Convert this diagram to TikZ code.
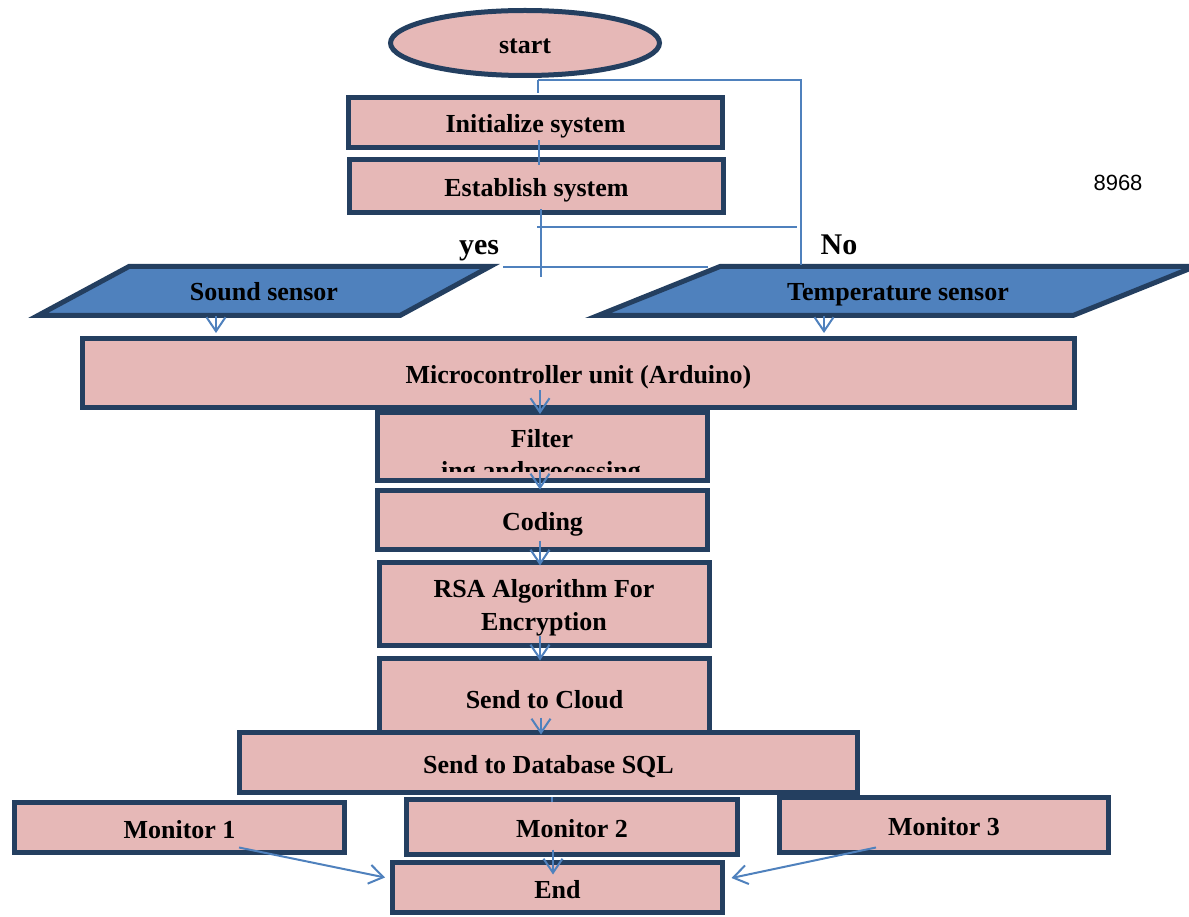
\documentclass[tikz,border=0pt]{standalone}
\usepackage{fontspec}
\setmainfont{Liberation Serif}
\newfontfamily\arialfont{Liberation Sans}
\usetikzlibrary{arrows.meta,calc,shapes.geometric}
\definecolor{pinkfill}{HTML}{E6B8B7}
\definecolor{navy}{HTML}{243F60}
\definecolor{lineblue}{HTML}{4F81BD}
\definecolor{sensorblue}{HTML}{4F81BD}
\begin{document}
\begin{tikzpicture}[x=1pt,y=-1pt,
  box/.style={draw=navy, line width=5pt, fill=pinkfill, inner sep=0pt,
    font=\fontsize{26}{33}\selectfont\bfseries, align=center,
    text height=21pt, text depth=0pt},
  sensor/.style={draw=navy, line width=5pt, fill=sensorblue},
  lbl/.style={font=\fontsize{26}{33}\selectfont\bfseries, inner sep=0pt},
  biglbl/.style={font=\fontsize{30}{36}\selectfont\bfseries, inner sep=0pt},
  wire/.style={draw=lineblue, line width=1.5pt},
  arr/.style={draw=lineblue, line width=2pt,
    -{Straight Barb[length=14pt,width=19pt,line width=2pt]}},
]
\useasboundingbox (0,0) rectangle (1189,917);

% start and first boxes
\node[box, ellipse, minimum width=269, minimum height=65] (start) at (525,43) {start};
\node[box, minimum width=374, minimum height=50] (init) at (535.5,122.5) {Initialize system};
\node[box, minimum width=374, minimum height=53] (estab) at (536.5,186) {Establish system};

% sensors
\draw[sensor] (129,266.5) coordinate (sTL) -- (490,266.5) coordinate (sTR)
  -- (400,315.5) coordinate (sBR) -- (38,315.5) coordinate (sBL) -- cycle;
\node[lbl, anchor=base] (sound) at (264,301) {Sound sensor};
\draw[sensor] (720,266.5) coordinate (tTL) -- (1195,266.5) coordinate (tTR)
  -- (1073,315.5) coordinate (tBR) -- (598,315.5) coordinate (tBL) -- cycle;
\node[lbl, anchor=base] (temp) at (898,301) {Temperature sensor};

\node[biglbl, anchor=base] (yes) at (479,255) {yes};
\node[biglbl, anchor=base] (no) at (839,255) {No};
\node[font=\arialfont\fontsize{22}{26}\selectfont, inner sep=0pt, anchor=base] (num) at (1118,191) {8968};

% main column
\node[box, minimum width=992, minimum height=69] (micro) at (578.5,373) {Microcontroller unit (Arduino)};
\node[box, minimum width=330, minimum height=68] (filter) at (542.5,446.5) {};
\node[lbl, anchor=base] (filt1) at (542,447) {Filter};
\begin{scope}
  \clip (377,412) rectangle (708,471);
  \node[lbl, anchor=base] (filt2) at (541,479) {ing andprocessing};
\end{scope}
\node[box, minimum width=330, minimum height=59] (coding) at (542.5,520) {Coding};
\node[box, minimum width=330, minimum height=83] (rsa) at (544.5,604) {};
\node[lbl, anchor=base] (rsa1) at (544,597) {RSA Algorithm For};
\node[lbl, anchor=base] (rsa2) at (544,630) {Encryption};
\node[box, minimum width=330, minimum height=79] (cloud) at (544.5,698) {Send to Cloud};
\node[box, minimum width=618, minimum height=60] (db) at (548.5,762.5) {Send to Database SQL};
\node[box, minimum width=330, minimum height=50] (m1) at (179.5,827.5) {Monitor 1};
\node[box, minimum width=331, minimum height=55] (m2) at (572,827) {Monitor 2};
\node[box, minimum width=329, minimum height=55] (m3) at (944,825) {Monitor 3};
\node[box, minimum width=330, minimum height=50] (end) at (557.5,887.5) {End};

% thin connector lines at the top
\coordinate (topright) at (801,265);
\coordinate (yesend) at (541,277);
\coordinate (hl1) at (537,227);
\coordinate (hl2) at (797,227);
\draw[wire] ($(start.south)+(13,2)$) -- ($(init.north)+(2.5,-2)$);
\draw[wire] ($(start.south)+(13,2)$) -| (topright);
\draw[wire] ($(init.south)+(3.5,-9.5)$) -- ($(estab.north)+(2.5,8.5)$);
\draw[wire] ($(estab.south)+(4.5,-5.5)$) -- (yesend);
\draw[wire] (hl1) -- (hl2);
\draw[wire] ($(sTR)+(13,0.5)$) -- ($(tTL)+(-12,0.5)$);

% arrows
\draw[arr] ($(micro.north)+(-362.5,-20)$) -- ($(micro.north)+(-362.5,-3)$);
\draw[arr] ($(micro.north)+(245.5,-20)$) -- ($(micro.north)+(245.5,-3)$);
\draw[arr] ($(filter.north)+(-2.5,-20)$) -- ($(filter.north)+(-2.5,4)$);
\draw[arr] ($(coding.north)+(-2.5,-18.5)$) -- ($(coding.north)+(-2.5,1.5)$);
\draw[arr] ($(rsa.north)+(-4.5,-19.5)$) -- ($(rsa.north)+(-4.5,5.5)$);
\draw[arr] ($(cloud.north)+(-4.5,-20.5)$) -- ($(cloud.north)+(-4.5,4.5)$);
\draw[arr] ($(db.north)+(-7.5,-12.5)$) -- ($(db.north)+(-7.5,4.5)$);
\draw[wire, line width=2pt] ($(db.south)+(3.5,2)$) -- ($(db.south)+(3.5,7)$);
\draw[arr] ($(m2.south)+(-19,-7.5)$) -- ($(end.north)+(-4.5,14.5)$);
\draw[arr] ($(m1.south)+(59.5,-7.5)$) -- ($(end.west)+(-5,-10)$);
\draw[arr] ($(m3.south)+(-68,-7.5)$) -- ($(end.east)+(6.5,-9.5)$);
\end{tikzpicture}
\end{document}
